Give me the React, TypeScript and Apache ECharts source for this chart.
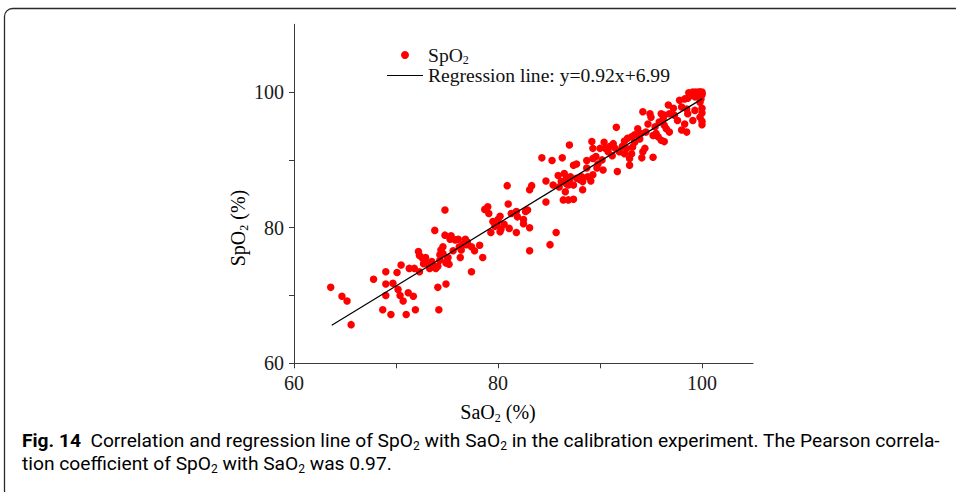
import React, { useEffect, useRef } from 'react';
import * as echarts from 'echarts';

// SaO2 (x) and SpO2 (y) readings
const saO2 = [
  63.6, 64.7, 65.2, 65.6, 67.8, 68.7, 69.0, 69.0, 69.0, 69.5, 69.7, 70.1, 70.2, 70.4, 70.5, 70.7, 71.0, 71.2, 71.3, 71.7, 71.8, 71.9,
  72.2, 72.3, 72.3, 72.6, 72.7, 72.9, 73.0, 73.3, 73.5, 73.6, 73.8, 73.9, 74.1, 74.1, 74.2, 74.3, 74.3, 74.4, 74.6, 74.6, 74.8, 74.8,
  74.9, 74.9, 75.0, 75.1, 75.2, 75.3, 75.4, 75.6, 75.8, 76.1, 76.2, 76.3, 76.4, 76.6, 76.8, 76.9, 77.0, 77.4, 77.4, 77.7, 78.2, 78.5,
  78.7, 79.0, 79.1, 79.3, 79.5, 79.7, 79.9, 80.0, 80.2, 80.2, 80.3, 80.6, 80.9, 81.0, 81.1, 81.3, 81.8, 81.8, 81.9, 82.5, 82.5, 82.7,
  82.9, 83.1, 83.1, 83.1, 83.3,
  84.3, 84.7, 84.7, 85.1, 85.3, 85.4, 85.7, 85.9, 86.0, 86.2, 86.3, 86.4, 86.5, 86.6, 86.7, 86.7, 86.9, 86.9, 87.0, 87.0, 87.1, 87.4,
  87.4, 87.4, 87.7, 87.7, 88.0, 88.2, 88.3, 88.3, 88.7, 88.7, 88.8, 89.1, 89.2, 89.3, 89.3, 89.3, 89.6, 89.7, 89.8,
  90.0, 90.2, 90.3, 90.4, 90.5, 90.8, 91.0, 91.2, 91.3, 91.5, 91.9, 92.2, 92.6, 92.4, 91.6, 91.7, 92.4, 92.7, 92.9, 92.9, 93.1, 93.2,
  93.1, 93.4, 93.4, 93.7, 93.9, 94.0, 94.2, 94.1, 94.2, 94.4, 94.5, 94.7, 94.9, 95.0, 95.2, 95.2, 95.4, 95.5, 95.7, 95.8, 96.0, 96.0,
  96.2, 96.3, 96.3, 96.3, 96.5,
  96.7, 96.8, 96.8, 97.2, 97.3, 97.6, 97.8, 98.0, 98.0, 98.3, 98.3, 98.5, 98.5, 98.6, 98.6, 98.9, 99.1, 99.1, 99.3, 99.3, 99.4, 99.6,
  99.8, 99.8, 99.8, 99.9, 100.0, 100.0, 100.0, 100.0, 100.0, 100.0, 99.6, 98.7, 99.7, 100.0,
];
const spO2 = [
  71.2, 69.9, 69.2, 65.7, 72.4, 67.9, 73.5, 71.7, 70.0, 67.2, 71.8, 73.4, 70.9, 70.0, 74.5, 69.2, 67.2, 70.4, 74.0, 69.9, 74.0, 67.9,
  76.5, 75.9, 73.5, 75.5, 74.7, 75.6, 74.8, 74.0, 75.0, 74.5, 79.6, 74.0, 74.3, 71.2, 67.9, 75.2, 76.0, 76.7, 76.2, 77.2, 82.6, 78.9,
  71.7, 74.8, 75.2, 75.6, 74.6, 78.3, 78.8, 76.6, 78.2, 78.3, 77.2, 75.6, 76.7, 77.6, 78.3, 77.5, 77.9, 77.2, 73.5, 76.6, 77.4, 75.6,
  82.7, 83.1, 82.1, 79.3, 80.9, 80.2, 80.6, 81.2, 81.7, 79.4, 79.8, 80.5, 86.2, 83.5, 79.9, 82.1, 82.4, 79.3, 81.6, 81.2, 80.6, 82.4,
  82.6, 80.0, 76.6, 85.6, 86.2,
  90.3, 86.9, 83.8, 77.5, 89.9, 86.3, 79.3, 87.7, 86.0, 86.8, 90.3, 84.1, 88.0, 85.3, 86.5, 87.3, 84.1, 86.3, 92.2, 87.0, 87.5, 84.2,
  86.3, 89.2, 89.4, 87.3, 87.1, 87.5, 85.6, 86.8, 89.9, 88.8, 87.5, 86.9, 92.7, 87.8, 90.2, 91.7, 90.5, 88.8, 89.4,
  91.7, 90.0, 88.5, 92.6, 91.7, 91.2, 92.0, 90.6, 92.4, 91.7, 91.2, 92.0, 91.7, 90.9, 94.8, 88.3, 92.8, 93.2, 89.2, 90.2, 90.9, 91.9,
  93.4, 93.7, 92.6, 94.6, 93.1, 93.9, 97.1, 90.3, 91.2, 91.7, 94.1, 95.3, 96.8, 96.3, 90.4, 93.6, 94.9, 93.9, 93.4, 95.6, 92.9, 96.8,
  96.1, 92.7, 95.1, 96.6, 94.6,
  98.1, 96.8, 94.1, 97.6, 96.6, 95.8, 98.8, 97.8, 94.4, 99.0, 95.3, 97.5, 94.1, 99.1, 96.8, 99.5, 100.0, 95.8, 99.3, 97.3, 100.0, 99.3,
  100.0, 98.5, 96.3, 99.0, 99.8, 100.0, 97.6, 96.9, 95.7, 95.2, 99.8, 99.9, 100.0, 99.6,
];

// Regression line end points (y = 0.92x + 6.99)
const regressionX = [63.7, 100];
const regressionY = [65.6, 99.0];

const tickValues = [60, 70, 80, 90, 100];
const labelValues = [60, 80, 100];

const serif = "'Times New Roman', 'Liberation Serif', serif";
const capFont = "'Roboto', 'Noto Sans', sans-serif";

export default function App() {
  const ref = useRef<HTMLDivElement>(null);

  useEffect(() => {
    if (!ref.current) return;
    const chart = echarts.init(ref.current, undefined, { renderer: 'svg' });

    const scatterData = saO2.map((x, i) => [x, spO2[i]]);
    const lineData = regressionX.map((x, i) => [x, regressionY[i]]);

    const subRich = {
      a: { fontSize: 20, fontFamily: serif, color: '#111', lineHeight: 22 },
      s: { fontSize: 12, fontFamily: serif, color: '#111', lineHeight: 24, verticalAlign: 'bottom' as const },
    };
    const legendRich = {
      a: { fontSize: 19.6, fontFamily: serif, color: '#111', lineHeight: 21 },
      s: { fontSize: 12, fontFamily: serif, color: '#111', lineHeight: 21, verticalAlign: 'bottom' as const },
    };

    const axisCommon = {
      type: 'value' as const,
      interval: 10,
      splitLine: { show: false },
      axisLine: { show: true, onZero: false, lineStyle: { color: '#3a3a3a', width: 1 } },
      axisTick: { show: true, length: 5, customValues: tickValues, lineStyle: { color: '#3a3a3a', width: 1 } },
      axisLabel: {
        customValues: labelValues,
        fontSize: 20,
        fontFamily: serif,
        color: '#1a1a1a',
        margin: 10,
        formatter: (v: number) => (labelValues.indexOf(v) >= 0 ? String(v) : ''),
      },
    };

    const capRich = {
      b: { fontSize: 19.2, fontWeight: 'bold' as const, fontFamily: capFont, color: '#231f20', lineHeight: 22 },
      t: { fontSize: 19.2, fontFamily: capFont, color: '#231f20', lineHeight: 22 },
      s: { fontSize: 12, fontFamily: capFont, color: '#231f20', lineHeight: 24, verticalAlign: 'bottom' as const },
    };

    chart.setOption({
      animation: false,
      grid: { left: 294, top: 24.3, width: 459, height: 339, containLabel: false },
      xAxis: { ...axisCommon, min: 60, max: 105 },
      yAxis: { ...axisCommon, min: 60, max: 110 },
      legend: {
        orient: 'vertical',
        left: 387,
        top: 45,
        padding: 0,
        itemWidth: 36,
        itemHeight: 8,
        itemGap: 0,
        selectedMode: false,
        textStyle: { fontSize: 19.6, fontFamily: serif, color: '#111', rich: legendRich },
        formatter: (name: string) => (name === 'SpO2' ? '{a|SpO}{s|2}' : '{a|' + name + '}'),
        data: [
          { name: 'SpO2', icon: 'circle' },
          {
            name: 'Regression line: y=0.92x+6.99',
            icon: 'path://M0,0 L36,0 L36,1 L0,1 Z',
            itemStyle: { color: '#000000' },
          },
        ],
      },
      series: [
        {
          name: 'SpO2',
          type: 'scatter',
          data: scatterData,
          symbol: 'circle',
          symbolSize: 7.5,
          itemStyle: { color: '#ff0000', opacity: 1 },
          z: 2,
        },
        {
          name: 'Regression line: y=0.92x+6.99',
          type: 'line',
          data: lineData,
          symbol: 'none',
          lineStyle: { color: '#000000', width: 1.2 },
          itemStyle: { color: '#000000' },
          z: 3,
        },
      ],
      graphic: [
        {
          type: 'rect',
          shape: { x: 4.5, y: 8.5, width: 1000, height: 490, r: 8 },
          style: { fill: 'none', stroke: '#2a2a2a', lineWidth: 1.3 },
          silent: true,
        },
        {
          type: 'text',
          x: 498,
          y: 412,
          style: {
            text: '{a|SaO}{s|2}{a| (%)}',
            rich: subRich,
            align: 'center',
            verticalAlign: 'middle',
          },
        },
        {
          type: 'text',
          x: 238,
          y: 228,
          rotation: Math.PI / 2,
          style: {
            text: '{a|SpO}{s|2}{a| (%)}',
            rich: subRich,
            align: 'center',
            verticalAlign: 'middle',
          },
        },
        {
          type: 'text',
          x: 22,
          y: 440,
          style: {
            text:
              '{b|Fig. 14}{t|  Correlation and regression line of SpO}{s|2}{t| with SaO}{s|2}{t| in the calibration experiment. The Pearson correla-}',
            align: 'left',
            verticalAlign: 'middle',
            rich: capRich,
          },
        },
        {
          type: 'text',
          x: 22,
          y: 463,
          style: {
            text: '{t|tion coefficient of SpO}{s|2}{t| with SaO}{s|2}{t| was 0.97.}',
            align: 'left',
            verticalAlign: 'middle',
            rich: capRich,
          },
        },
      ],
    });

    return () => chart.dispose();
  }, []);

  return (
    <div
      ref={ref}
      style={{ position: 'fixed', left: 0, top: 0, width: 956, height: 492, background: '#ffffff' }}
    />
  );
}
